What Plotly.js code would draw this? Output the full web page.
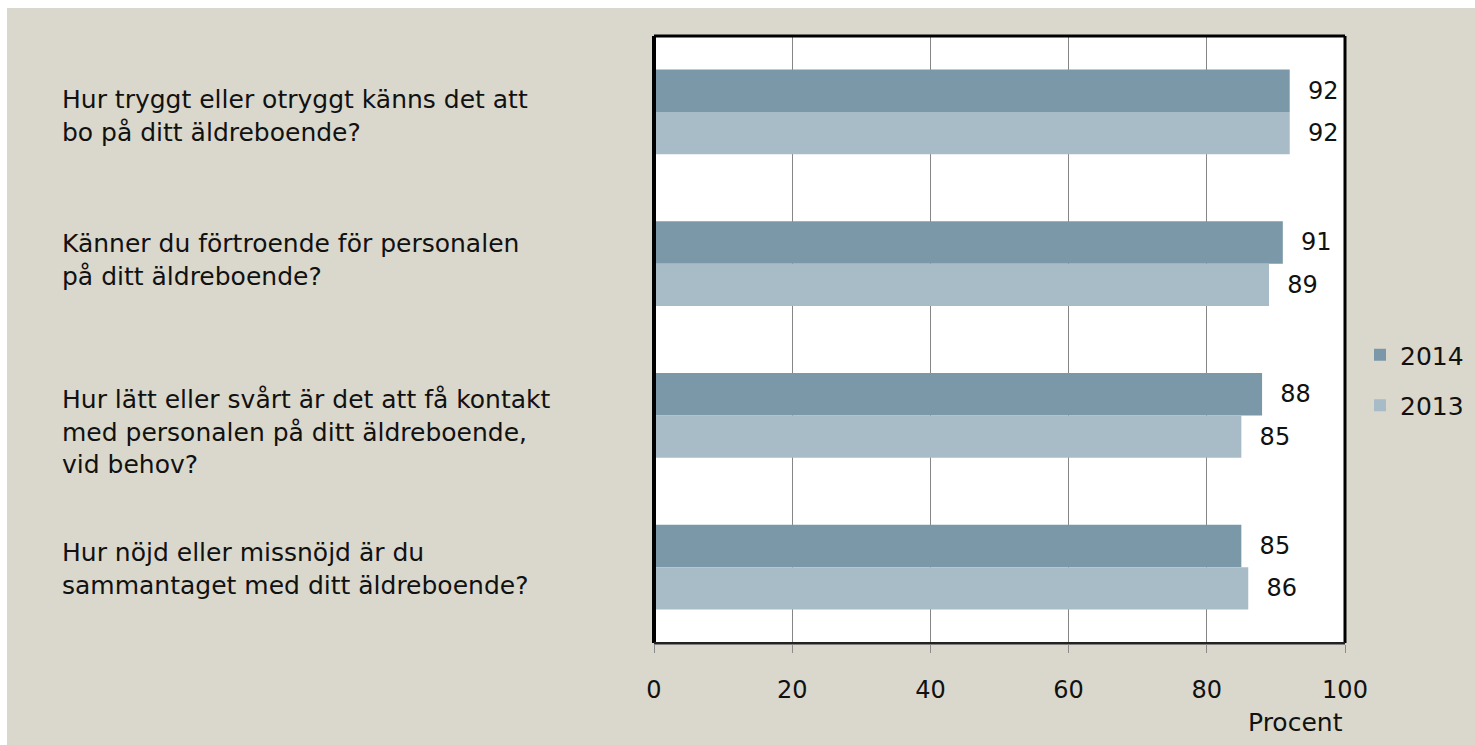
<!DOCTYPE html>
<html>
<head>
<meta charset="utf-8">
<script src="https://cdn.plot.ly/plotly-3.0.1.min.js"></script>
<style>
html,body{margin:0;padding:0;background:#ffffff;overflow:hidden;}
#chart{position:absolute;left:7px;top:8px;width:1468px;height:737px;}
</style>
</head>
<body>
<div id="chart"></div>
<script>
const categories = [
  "Hur tryggt eller otryggt känns det att<br>bo på ditt äldreboende?",
  "Känner du förtroende för personalen<br>på ditt äldreboende?",
  "Hur lätt eller svårt är det att få kontakt<br>med personalen på ditt äldreboende,<br>vid behov?",
  "Hur nöjd eller missnöjd är du<br>sammantaget med ditt äldreboende?"
];
const seriesNames = ["2014", "2013"];
const values2014 = [92, 91, 88, 85];
const values2013 = [92, 89, 85, 86];
const xTicks = [0, 20, 40, 60, 80, 100];
const xAxisLabel = "Procent";

// layout tweak: vertical nudge (px) of each category label block
const labelYShift = [-4, 4, -17, -2];

const FONT = "DejaVu Sans, sans-serif";
const colors = ["#7b98a9", "#a7bcc7"];

const traces = [values2014, values2013].map((vals, i) => ({
  type: "bar",
  orientation: "h",
  name: seriesNames[i],
  legendgroup: seriesNames[i],
  y: categories,
  x: vals,
  marker: {color: colors[i], line: {width: 0}},
  text: vals.map(v => String(v)),
  texttemplate: "\u00a0\u00a0%{text}",
  textposition: "outside",
  constraintext: "none",
  cliponaxis: false,
  textfont: {family: FONT, size: 24, color: "#111111"},
  hoverinfo: "skip"
}));

const annotations = categories.map((c, i) => ({
  xref: "paper", yref: "y",
  x: (53 - 647) / 691, y: c,
  yshift: labelYShift[i],
  text: c,
  showarrow: false,
  xanchor: "left", yanchor: "middle", align: "left",
  font: {family: FONT, size: 25, color: "#111111"}
}));
annotations.push({
  xref: "paper", yref: "paper",
  x: 1.0, y: (635 - 714) / 607,
  text: xAxisLabel, showarrow: false,
  xanchor: "right", yanchor: "middle",
  font: {family: FONT, size: 25, color: "#111111"}
});

const layout = {
  width: 1468, height: 737,
  paper_bgcolor: "#dad8cc",
  plot_bgcolor: "#ffffff",
  margin: {l: 647, r: 130, t: 28, b: 102, pad: 0, autoexpand: false},
  barmode: "group",
  bargap: 0.44,
  bargroupgap: 0,
  showlegend: true,
  legend: {
    xref: "container", yref: "container",
    x: 1353 / 1468, xanchor: "left",
    y: (737 - 372) / 737, yanchor: "middle",
    bgcolor: "rgba(0,0,0,0)",
    font: {family: FONT, size: 25, color: "#111111"},
    traceorder: "grouped",
    itemwidth: 30,
    tracegroupgap: 15
  },
  xaxis: {
    range: [0, 100],
    tickvals: xTicks,
    ticktext: xTicks.map(String),
    showgrid: true, gridcolor: "#868686", gridwidth: 1,
    zeroline: false,
    showline: true, linecolor: "#7f7f7f", linewidth: 2,
    ticks: "outside", ticklen: 8, tickcolor: "#8c8c8c", tickwidth: 1,
    ticklabelstandoff: 16,
    tickfont: {family: FONT, size: 24, color: "#111111"},
    fixedrange: true
  },
  yaxis: {
    type: "category",
    autorange: "reversed",
    showticklabels: false,
    showgrid: false, zeroline: false, showline: false,
    ticks: "",
    fixedrange: true
  },
  shapes: [
    {type: "line", xref: "paper", yref: "paper", x0: 0, x1: 0, y0: 0, y1: 1, line: {color: "#000000", width: 4}},
    {type: "line", xref: "paper", yref: "paper", x0: 0, x1: 1, y0: 1, y1: 1, line: {color: "#000000", width: 3}},
    {type: "line", xref: "paper", yref: "paper", x0: 1, x1: 1, y0: 0, y1: 1, line: {color: "#000000", width: 3}},
    {type: "line", xref: "paper", yref: "paper", x0: 0, x1: 1, y0: 0, y1: 0, line: {color: "#222222", width: 2}}
  ],
  annotations: annotations
};

Plotly.newPlot("chart", traces, layout, {staticPlot: true, displayModeBar: false});
</script>
</body>
</html>
